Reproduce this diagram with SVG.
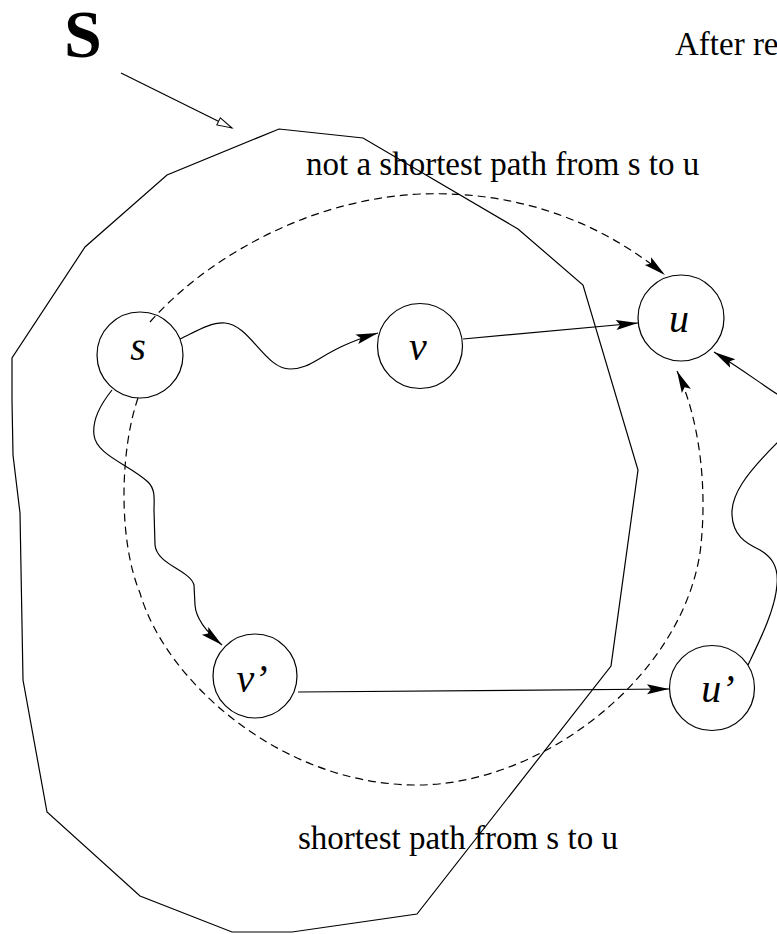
<svg xmlns="http://www.w3.org/2000/svg" width="777" height="934" viewBox="0 0 777 934">
<style>
.ln{fill:none;stroke:#000;stroke-width:1.2}
.ds{fill:none;stroke:#000;stroke-width:1.2;stroke-dasharray:8,5}
.nd{fill:#fff;stroke:#000;stroke-width:1.2}
.lbl{font-family:"Liberation Serif",serif;font-style:italic;font-size:40px;text-anchor:middle}
.txt{font-family:"Liberation Serif",serif;font-size:33px}
</style>
<defs>
<marker id="ah" markerUnits="userSpaceOnUse" markerWidth="22" markerHeight="10" refX="22" refY="5" orient="auto" overflow="visible">
<path d="M0,0 L22,5 L0,10 L4,5 z" fill="#000"/>
</marker>
<marker id="oh" markerUnits="userSpaceOnUse" markerWidth="15" markerHeight="8" refX="15" refY="4" orient="auto" overflow="visible">
<path d="M0,0 L15,4 L0,8 z" fill="#fff" stroke="#000" stroke-width="1"/>
</marker>
</defs>
<rect width="777" height="934" fill="#fff"/>
<g id="region-S">
<polygon class="ln" points="279,129 363,138 518,229 583,285 638,470 611,666 417,914 292,932 232,932 140,896 47,812 23,680 20,513 13,455 12,400 12,358 85,247 167,175"/>
</g>
<g id="texts">
<text x="64" y="57" font-family="Liberation Serif,serif" font-weight="bold" font-size="68">S</text>
<text class="txt" x="675" y="55">After re</text>
<text class="txt" x="306" y="175">not a shortest path from s to u</text>
<text class="txt" x="298" y="849">shortest path from s to u</text>
</g>
<g id="connectors">
<line class="ln" x1="121" y1="73" x2="232" y2="128" marker-end="url(#oh)"/>
<path class="ln" d="M180,339 C195,332 210,322 225,323 C250,325 265,369 290,369 C315,369 320,350 378,333" marker-end="url(#ah)"/>
<line class="ln" x1="463" y1="339" x2="638" y2="323" marker-end="url(#ah)"/>
<path class="ln" d="M112,390 C100,405 92,420 94,435 C96,455 130,465 148,482 C156,490 154,500 154,510 L155,545 C157,565 190,570 194,585 L195,605 C196,620 210,635 222,645" marker-end="url(#ah)"/>
<line class="ln" x1="298" y1="692" x2="669" y2="689" marker-end="url(#ah)"/>
<path class="ln" d="M748,665 C760,640 775,610 777,585 C779,565 770,556 760,550 C745,543 733,535 732,515 C731,495 745,475 777,443 C795,425 795,405 777,394 C760,383 740,368 714,352" marker-end="url(#ah)"/>
<path class="ds" d="M150,322 C200,265 300,200 420,194 C530,190 610,230 665,275" marker-end="url(#ah)"/>
<path class="ds" d="M138,398 C120,450 118,540 140,593 C165,680 280,785 417,785 C540,785 680,680 700,553 C708,490 700,420 677,371" marker-end="url(#ah)"/>
</g>
<g id="node-s">
<circle class="nd" cx="140" cy="355" r="43" fill="none" style="fill:none"/>
<text class="lbl" x="138" y="360">s</text>
</g>
<g id="node-v">
<circle class="nd" cx="420" cy="346" r="42.5" style="fill:none"/>
<text class="lbl" x="418" y="360">v</text>
</g>
<g id="node-u">
<circle class="nd" cx="681" cy="318" r="43" style="fill:none"/>
<text class="lbl" x="679" y="332">u</text>
</g>
<g id="node-v2">
<circle class="nd" cx="255" cy="676" r="42" style="fill:none"/>
<text class="lbl" x="252" y="692">v’</text>
</g>
<g id="node-u2">
<circle class="nd" cx="712" cy="688" r="42.5" style="fill:none"/>
<text class="lbl" x="718" y="702">u’</text>
</g>
</svg>
